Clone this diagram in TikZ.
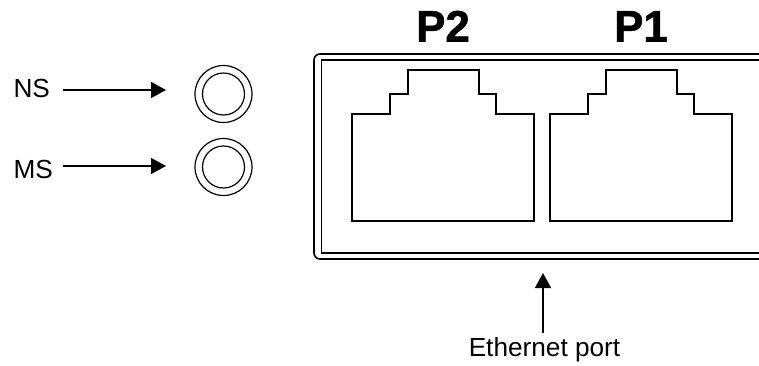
\documentclass[tikz,border=0pt]{standalone}
\usepackage{fontspec}
\setmainfont{Liberation Sans}
\newfontfamily\portfont[BoldFeatures={FakeBold=1.2}]{Liberation Sans}
\usetikzlibrary{arrows.meta}

\tikzset{
	lbl/.style={inner sep=0pt,outer sep=0pt,font=\fontsize{26.2}{30}\selectfont},
	portlbl/.style={inner sep=0pt,outer sep=0pt,anchor=base,font=\fontsize{44}{50}\selectfont\portfont\bfseries},
	led/.style={circle,draw,line width=1.2pt,inner sep=0pt,minimum size=57pt},
}

\begin{document}
\begin{tikzpicture}[x=1pt,y=-1pt,line width=1.6pt]
		\useasboundingbox (0,0) rectangle (759,365);
		% housing, open on the right
		\draw[rounded corners=6pt] (759,54) -- (314,54) -- (314,259) -- (759,259);
		\draw (759,60) -- (321.5,60) -- (321.5,253) -- (759,253);
		%
		\foreach \portname/\xa in {P2/352,P1/550}{
			\draw[line width=1.5pt,shift={(\xa,0)}] (0,114) -- (38,114) -- (38,94) -- (56,94) -- (56,70)
			-- (127,70) -- (127,94) -- (144,94) -- (144,114) -- (182,114) -- (182,221) -- (0,221) -- cycle;
			\node[portlbl] (\portname) at (\xa+91,41.5) {\portname};
		}
		%
		\node[led] (LN) at (223.5,94) {};
		\node[led] (LM) at (223.5,167) {};
		\node[led,minimum size=42pt] (LNi) at (223.5,94) {};
		\node[led,minimum size=42pt] (LMi) at (223.5,167) {};
		%
		\node[lbl,anchor=base west] (NS) at (13.5,97) {NS};
		\node[lbl,anchor=base west] (MS) at (13.5,178) {MS};
		\node[lbl,anchor=base] (Eth) at (544.5,356.5) {Ethernet port};
		%
		\coordinate (NStip) at (166,90);
		\coordinate (MStip) at (166,166);
		\coordinate (Ethtip) at (543,273);
		%
		\path[-{Triangle[length=15pt,width=16pt]},line width=1.5pt]
		(NS.east |- NStip) edge[shorten <=13pt] (NStip)
		(MS.east |- MStip) edge[shorten <=10pt] (MStip)
		(Ethtip |- Eth.north) edge[shorten <=5pt] (Ethtip);
	\end{tikzpicture}
\end{document}
